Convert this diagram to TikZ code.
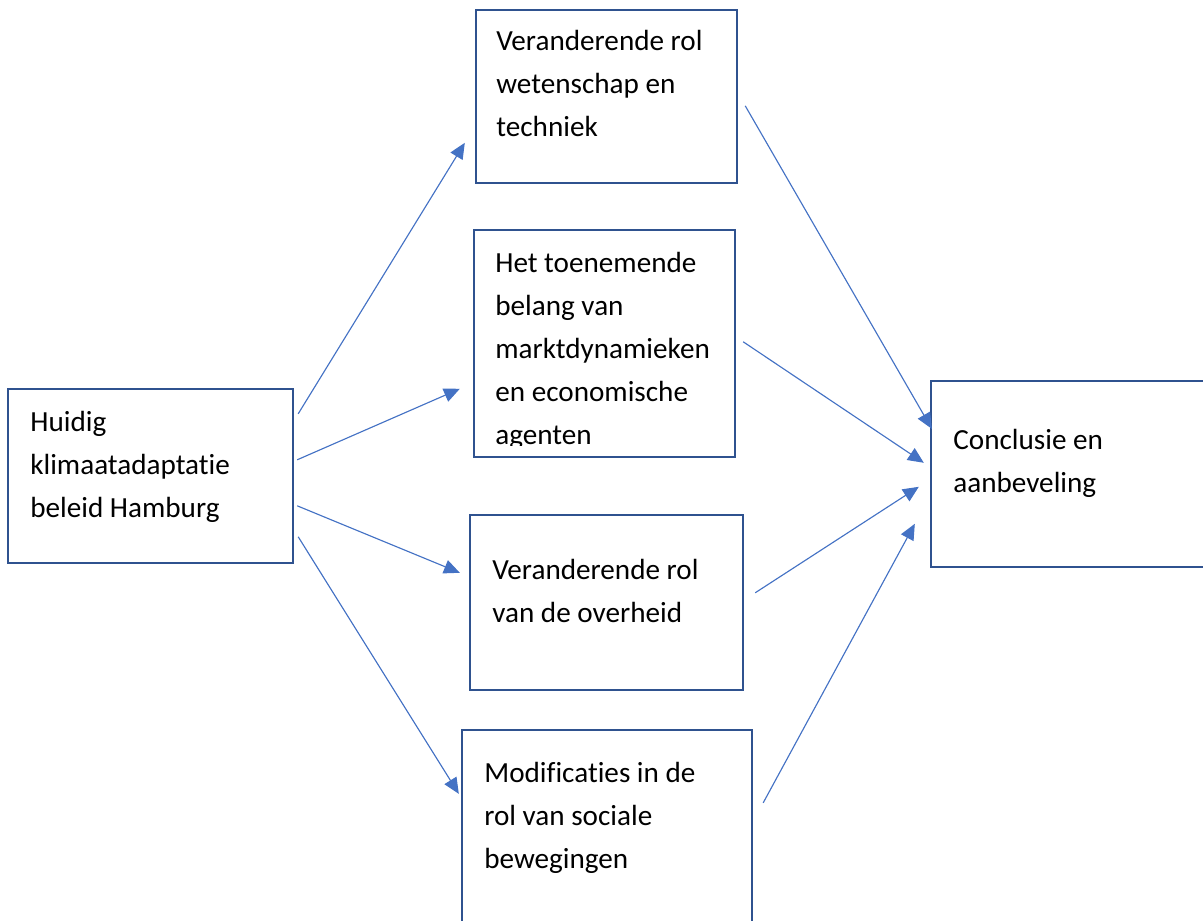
\documentclass[tikz,border=0pt]{standalone}
\usepackage{fontspec}
\setmainfont[Ligatures={NoCommon,NoContextual},Contextuals=NoAlternate]{Carlito}
\usetikzlibrary{arrows.meta,calc}
\definecolor{boxblue}{HTML}{2F528F}
\definecolor{arrowblue}{HTML}{4472C4}
\tikzset{
  box/.style={draw=boxblue, line width=1.4pt, inner sep=0pt},
  txt/.style={anchor=north west, inner sep=0pt, align=left,
    font=\fontsize{16.6}{24.5}\selectfont},
  arr/.style={draw=arrowblue, line width=.65pt,
    -{Triangle[length=9pt,width=8pt]}}
}
\begin{document}
\begin{tikzpicture}[x=.02cm, y=-.02cm]
  \useasboundingbox (0,0) rectangle (1203,920);
  % boxes
  \node[box, minimum width=5.7cm, minimum height=3.48cm] (huidig) at (150.5,476) {};
  \node[box, minimum width=5.22cm, minimum height=3.46cm] (wetensch) at (606.5,96.5) {};
  \node[box, minimum width=5.22cm, minimum height=4.54cm] (markt) at (604.5,343.5) {};
  \node[box, minimum width=5.46cm, minimum height=3.5cm] (overheid) at (606.5,602.5) {};
  \node[box, minimum width=5.8cm, minimum height=4.6cm] (sociaal) at (607,845) {};
  \node[box, minimum width=6.18cm, minimum height=3.72cm] (concl) at (1085.5,474) {};
  % texts
  \node[txt] (huidigtxt) at (30,411) {Huidig\\klimaatadaptatie\\beleid Hamburg};
  \node[txt] (wetenschtxt) at (496,30) {Veranderende rol\\wetenschap en\\techniek};
  \begin{scope}
    \clip (474,230) rectangle (735,445);
    \node[txt] (markttxt) at (495,252) {Het toenemende\\belang van\\marktdynamieken\\en economische\\agenten};
  \end{scope}
  \node[txt] (overheidtxt) at (492,559) {Veranderende rol\\van de overheid};
  \node[txt] (sociaaltxt) at (484,762) {Modificaties in de\\rol van sociale\\bewegingen};
  \node[txt] (concltxt) at (953,429) {Conclusie en\\aanbeveling};
  % arrows
  \draw[arr] ([shift={(4,26)}]huidig.north east) -- ([shift={(-10,134)}]wetensch.north west);
  \draw[arr] ([shift={(3,72)}]huidig.north east) -- ([shift={(-13,160)}]markt.north west);
  \draw[arr] ([shift={(3,118)}]huidig.north east) -- ([shift={(-9,59)}]overheid.north west);
  \draw[arr] ([shift={(4,149)}]huidig.north east) -- ([shift={(-2,65)}]sociaal.north west);
  \draw[arr] ([shift={(7,97)}]wetensch.north east) -- ([shift={(2,49)}]concl.north west);
  \draw[arr] ([shift={(7,113)}]markt.north east) -- ([shift={(-6,83)}]concl.north west);
  \draw[arr] ([shift={(11,79)}]overheid.north east) -- ([shift={(-11,107)}]concl.north west);
  \draw[arr] ([shift={(10,74)}]sociaal.north east) -- ([shift={(-15,144)}]concl.north west);
\end{tikzpicture}
\end{document}
